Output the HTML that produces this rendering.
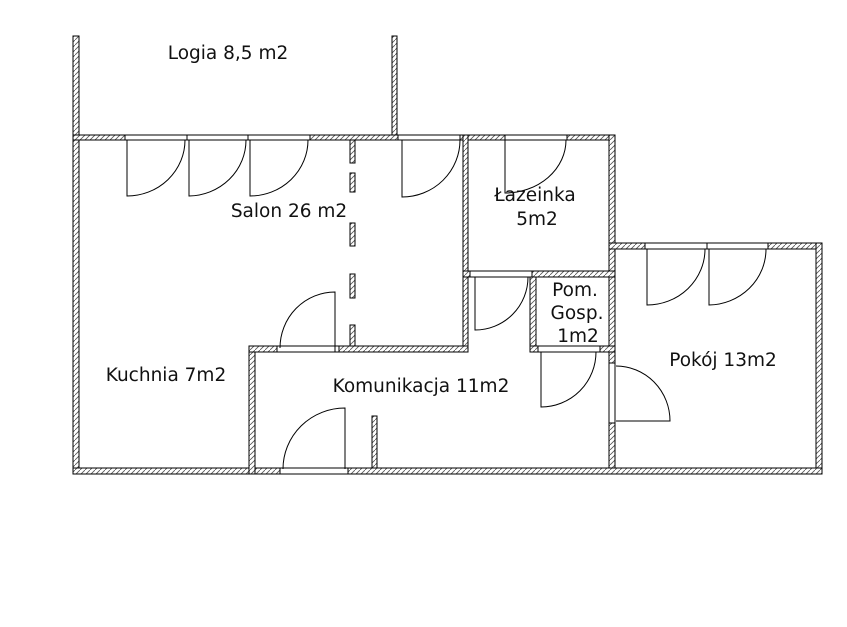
<!DOCTYPE html>
<html><head><meta charset="utf-8"><style>body{margin:0;background:#fff}svg{display:block}text{font-family:"DejaVu Sans","Liberation Sans",sans-serif;font-size:18.5px;fill:#111}</style></head><body>
<svg width="847" height="627" viewBox="0 0 847 627" xmlns="http://www.w3.org/2000/svg">
<defs><pattern id="h" width="5" height="5" patternUnits="userSpaceOnUse"><rect width="5" height="5" fill="#fff"/><path d="M0 5L5 0" stroke="#555" stroke-width="0.8"/></pattern></defs>
<g fill="url(#h)" stroke="#000" stroke-width="1">
<rect x="73" y="36" width="6" height="438"/>
<rect x="392" y="36" width="5" height="100"/>
<rect x="73" y="135" width="395" height="5"/>
<rect x="463" y="135" width="152" height="5"/>
<rect x="463" y="135" width="5" height="217"/>
<rect x="609" y="135" width="6" height="339"/>
<rect x="463" y="271" width="152" height="6"/>
<rect x="609" y="243" width="213" height="6"/>
<rect x="816" y="243" width="6" height="231"/>
<rect x="73" y="468" width="749" height="6"/>
<rect x="249" y="346" width="6" height="128"/>
<rect x="249" y="346" width="219" height="6"/>
<rect x="530" y="277" width="6" height="75"/>
<rect x="530" y="346" width="85" height="6"/>
<rect x="372" y="416" width="5" height="52"/>
<rect x="350" y="140" width="5" height="23"/>
<rect x="350" y="173" width="5" height="19"/>
<rect x="350" y="223" width="5" height="23"/>
<rect x="350" y="274" width="5" height="24"/>
<rect x="350" y="325" width="5" height="21"/>
</g>
<g fill="#fff" stroke="#000" stroke-width="1">
<rect x="125" y="135" width="62" height="5"/>
<rect x="187" y="135" width="61" height="5"/>
<rect x="248" y="135" width="62" height="5"/>
<rect x="398" y="135" width="62" height="5"/>
<rect x="505" y="135" width="62" height="5"/>
<rect x="277" y="346" width="62" height="6"/>
<rect x="470" y="271" width="62" height="6"/>
<rect x="538" y="346" width="62" height="6"/>
<rect x="609" y="363" width="6" height="60"/>
<rect x="645" y="243" width="62" height="6"/>
<rect x="707" y="243" width="61" height="6"/>
<rect x="280" y="468" width="68" height="6"/>
</g>
<g fill="none" stroke="#000" stroke-width="1">
<path d="M127 140V196A58 56 0 0 0 185 140"/>
<path d="M189 140V196A58 56 0 0 0 246 140"/>
<path d="M250 140V196A58 56 0 0 0 308 140"/>
<path d="M402 140V197A58 57 0 0 0 460 140"/>
<path d="M505 140V193A61 53 0 0 0 566 140"/>
<path d="M335 352V292A55 56 0 0 0 280 348"/>
<path d="M475 277V330A53 53 0 0 0 528 277"/>
<path d="M541 352V407A55 55 0 0 0 596 352"/>
<path d="M616 421H670A54 55 0 0 0 616 366"/>
<path d="M647 249V305A58 56 0 0 0 705 249"/>
<path d="M709 249V305A58 56 0 0 0 766 249"/>
<path d="M345 469V408A62 61 0 0 0 283 469"/>
</g>
<text x="228" y="59" text-anchor="middle">Logia 8,5 m2</text>
<text x="289" y="217" text-anchor="middle">Salon 26 m2</text>
<text x="535" y="201" text-anchor="middle">Łazeinka</text>
<text x="537" y="225" text-anchor="middle">5m2</text>
<text x="575" y="296" text-anchor="middle">Pom.</text>
<text x="577" y="319" text-anchor="middle">Gosp.</text>
<text x="578" y="342" text-anchor="middle">1m2</text>
<text x="166" y="381" text-anchor="middle">Kuchnia 7m2</text>
<text x="421" y="392" text-anchor="middle">Komunikacja 11m2</text>
<text x="723" y="366" text-anchor="middle">Pokój 13m2</text>
</svg>
</body></html>
